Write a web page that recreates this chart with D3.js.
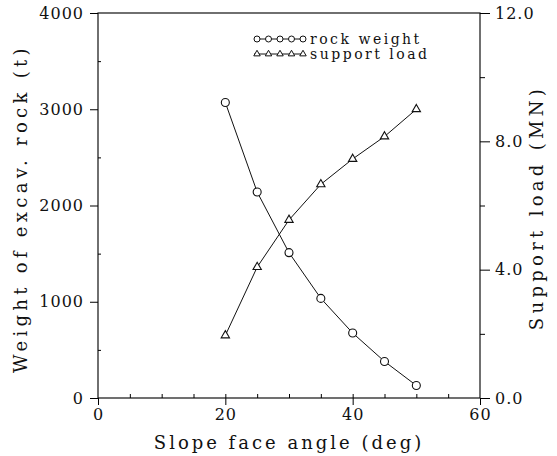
<!DOCTYPE html>
<html>
<head>
<meta charset="utf-8">
<script src="https://cdn.jsdelivr.net/npm/d3@7"></script>
<style>
  body { margin: 0; background: #fff; }
  text { font-family: "DejaVu Serif", "Liberation Serif", serif; fill: #111; }
</style>
</head>
<body>
<div id="chart"></div>
<script>
// data
const angles = [20, 25, 30, 35, 40, 45, 50];
const rockWeight = [3070, 2140, 1510, 1035, 675, 380, 130];
const supportLoad = [1.95, 4.08, 5.55, 6.66, 7.45, 8.15, 9.0];
const xTicks = [0, 20, 40, 60];
const leftTicks = [0, 1000, 2000, 3000, 4000];
const rightTicks = [0, 4, 8, 12];

const W = 557, H = 456;
const m = { left: 98, right: 77, top: 13, bottom: 58 };

const svg = d3.select("#chart").append("svg")
  .attr("width", W).attr("height", H);

const x = d3.scaleLinear().domain([0, 60]).range([m.left, W - m.right]);
const yL = d3.scaleLinear().domain([0, 4000]).range([H - m.bottom, m.top]);
const yR = d3.scaleLinear().domain([0, 12]).range([H - m.bottom, m.top]);

// frame
svg.append("rect")
  .attr("x", x(0)).attr("y", yL(4000))
  .attr("width", x(60) - x(0)).attr("height", yL(0) - yL(4000))
  .attr("fill", "none").attr("stroke", "#111").attr("stroke-width", 1.2);

const tickText = g => g.selectAll("text").style("font-size", "16px").style("letter-spacing", "1px");

// bottom axis: major ticks outward, minor ticks inward
svg.append("g").attr("transform", `translate(0,${yL(0)})`)
  .call(d3.axisBottom(x).tickValues(xTicks).tickSize(7).tickPadding(4))
  .call(g => g.select(".domain").remove())
  .call(tickText);
svg.append("g").attr("transform", `translate(0,${yL(0)})`)
  .call(d3.axisTop(x).tickValues(d3.range(5, 60, 5)).tickSize(4).tickFormat(""))
  .call(g => g.select(".domain").remove());

// left axis
svg.append("g").attr("transform", `translate(${x(0)},0)`)
  .call(d3.axisLeft(yL).tickValues(leftTicks).tickSize(8).tickPadding(6).tickFormat(d3.format("d")))
  .call(g => g.select(".domain").remove())
  .call(tickText);
svg.append("g").attr("transform", `translate(${x(0)},0)`)
  .call(d3.axisRight(yL).tickValues([500, 1500, 2500, 3500]).tickSize(3).tickFormat(""))
  .call(g => g.select(".domain").remove());

// right axis
svg.append("g").attr("transform", `translate(${x(60)},0)`)
  .call(d3.axisRight(yR).tickValues(rightTicks).tickSize(10).tickPadding(5).tickFormat(d3.format(".1f")))
  .call(g => g.select(".domain").remove())
  .call(tickText);
svg.append("g").attr("transform", `translate(${x(60)},0)`)
  .call(d3.axisRight(yR).tickValues([2, 6, 10]).tickSize(5).tickFormat(""))
  .call(g => g.select(".domain").remove());

// axis titles
svg.append("text")
  .attr("x", (x(0) + x(60)) / 2).attr("y", 449)
  .attr("text-anchor", "middle")
  .style("font-size", "18px").style("letter-spacing", "3px")
  .text("Slope face angle (deg)");
svg.append("text")
  .attr("transform", `translate(27,${(yL(0) + yL(4000)) / 2 + 3}) rotate(-90)`)
  .attr("text-anchor", "middle")
  .style("font-size", "18px").style("letter-spacing", "4.3px")
  .text("Weight of excav. rock (t)");
svg.append("text")
  .attr("transform", `translate(543,${(yL(0) + yL(4000)) / 2 + 2}) rotate(-90)`)
  .attr("text-anchor", "middle")
  .style("font-size", "18px").style("letter-spacing", "4.3px")
  .text("Support load (MN)");

// series
const tri = d3.symbol().type(d3.symbolTriangle).size(30);

svg.append("path")
  .datum(angles.map((a, i) => [a, rockWeight[i]]))
  .attr("fill", "none").attr("stroke", "#111").attr("stroke-width", 1)
  .attr("d", d3.line().x(d => x(d[0])).y(d => yL(d[1])));
svg.selectAll(".rw").data(angles).join("circle")
  .attr("cx", d => x(d)).attr("cy", (d, i) => yL(rockWeight[i]))
  .attr("r", 4).attr("fill", "#fff").attr("stroke", "#111").attr("stroke-width", 1.1);

svg.append("path")
  .datum(angles.map((a, i) => [a, supportLoad[i]]))
  .attr("fill", "none").attr("stroke", "#111").attr("stroke-width", 1)
  .attr("d", d3.line().x(d => x(d[0])).y(d => yR(d[1])));
svg.selectAll(".sl").data(angles).join("path")
  .attr("transform", (d, i) => `translate(${x(d)},${yR(supportLoad[i])})`)
  .attr("d", tri).attr("fill", "#fff").attr("stroke", "#111").attr("stroke-width", 1.1);

// legend
const legend = [
  { label: "rock weight", kind: "circle" },
  { label: "support load", kind: "triangle" }
];
const lg = svg.append("g").attr("transform", "translate(254,39)");
legend.forEach((l, i) => {
  const row = lg.append("g").attr("transform", `translate(0,${i * 15})`);
  row.append("line").attr("x1", 0).attr("x2", 50).attr("stroke", "#111");
  d3.range(5).forEach(k => {
    if (l.kind === "circle") {
      row.append("circle").attr("cx", k * 11.5 + 3).attr("r", 3)
        .attr("fill", "#fff").attr("stroke", "#111");
    } else {
      row.append("path").attr("transform", `translate(${k * 11.5 + 3},0)`)
        .attr("d", d3.symbol().type(d3.symbolTriangle).size(18))
        .attr("fill", "#fff").attr("stroke", "#111");
    }
  });
  row.append("text").attr("x", 56).attr("y", 5)
    .style("font-size", "14px").style("letter-spacing", "2.5px")
    .text(l.label);
});
</script>
</body>
</html>
